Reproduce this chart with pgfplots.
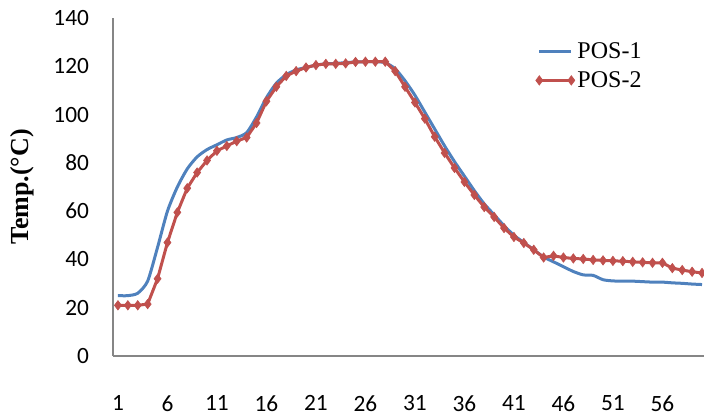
\documentclass[border=0pt]{standalone}
\usepackage{pgfplots}
\pgfplotsset{compat=1.18}
\usepackage{fontspec}
\setmainfont{Liberation Serif}
\newfontfamily\carlito{Carlito}
\definecolor{xblue}{HTML}{4F81BD}
\definecolor{xred}{HTML}{C0504D}
\definecolor{axgray}{HTML}{868686}
\begin{document}
\begin{tikzpicture}
\begin{axis}[
  scale only axis,
  width=443.25pt, height=253.5pt,
  xmin=0.5, xmax=60.2, ymin=0, ymax=140,
  axis x line=bottom, axis y line=left,
  axis line style={axgray, line width=0.8pt, -},
  xtick={1,6,11,16,21,26,31,36,41,46,51,56},
  ytick={0,20,40,60,80,100,120,140},
  major tick length=0pt,
  /pgf/number format/assume math mode=true,
  tick label style={font=\carlito\fontsize{17.5}{20}\selectfont, text=black},
  xticklabel style={yshift=-26pt},
  yticklabel style={xshift=-14.5pt},
  ylabel={\bfseries Temp.(°C)},
  ylabel style={at={(axis description cs:0,0.5)}, anchor=center, yshift=68.25pt, font=\fontsize{19.5}{22}\selectfont},
  legend style={at={(rel axis cs:0.715,0.935)}, anchor=north west, draw=none, fill=none,
    font=\fontsize{18}{20}\selectfont, row sep=4pt, inner sep=0pt},
  legend cell align=left,
  legend image code/.code={\draw[#1, mark=none] (0pt,0pt) -- (24pt,0pt);
     \path[#1, only marks] plot coordinates {(0pt,0pt) (24pt,0pt)};},
]
\coordinate (SW) at (rel axis cs:0,0);
\coordinate (NE) at (rel axis cs:1,1);
\addplot[xblue, line width=2.25pt, smooth, tension=0.4, mark=none] coordinates {
(1,25) (2,25) (3,26) (4,31) (5,45) (6,60) (7,70) (8,77.5) (9,82.5) (10,85.5)
(11,87.5) (12,89.5) (13,90.5) (14,92.5) (15,99) (16,107) (17,113) (18,116.5) (19,118.5) (20,119.5)
(21,120.5) (22,121) (23,121.2) (24,121.5) (25,121.8) (26,121.9) (27,121.9) (28,121.5) (29,119) (30,114)
(31,108) (32,101) (33,94) (34,87) (35,80.5) (36,74.5) (37,68.5) (38,63) (39,58.5) (40,54)
(41,50) (42,47) (43,44) (44,41) (45,39) (46,37) (47,35) (48,33.6) (49,33.4) (50,31.6)
(51,31.1) (52,31) (53,31) (54,30.8) (55,30.6) (56,30.6) (57,30.3) (58,30.1) (59,29.8) (60,29.6)
};
\addlegendentry{POS-1}
\addplot[xred, line width=2.25pt, mark=diamond*, mark size=3.5pt, mark options={solid, fill=xred, line width=0.5pt}] coordinates {
(1,21) (2,21) (3,21) (4,21.5) (5,32) (6,47) (7,59.5) (8,69.5) (9,76) (10,81)
(11,85) (12,87) (13,89) (14,90.5) (15,96.5) (16,105.5) (17,111.5) (18,116) (19,118) (20,119.5)
(21,120.5) (22,121) (23,121) (24,121.2) (25,121.8) (26,121.9) (27,121.9) (28,121.9) (29,118) (30,111.5)
(31,105) (32,98.3) (33,90.8) (34,84.1) (35,77.9) (36,72.1) (37,66.7) (38,61.7) (39,57.6) (40,53)
(41,49.3) (42,46.8) (43,44) (44,40.8) (45,41.5) (46,40.8) (47,40.4) (48,40.2) (49,39.8) (50,39.6)
(51,39.4) (52,39.3) (53,39) (54,38.8) (55,38.6) (56,38.6) (57,36.4) (58,35.6) (59,34.9) (60,34.4)
};
\addlegendentry{POS-2}
\end{axis}
\pgfresetboundingbox
\useasboundingbox ([xshift=-84.75pt,yshift=-47.25pt]SW) rectangle ([yshift=13.5pt]NE);
\end{tikzpicture}
\end{document}
